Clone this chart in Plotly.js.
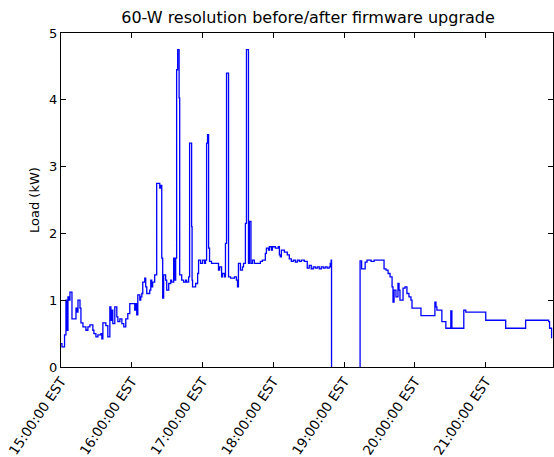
<!DOCTYPE html>
<html>
<head>
<meta charset="utf-8">
<script src="https://cdn.plot.ly/plotly-3.0.1.min.js"></script>
<style>html,body{margin:0;padding:0;background:#fff;}#chart{width:554px;height:457px;}</style>
</head>
<body>
<div id="chart"></div>
<script>
// minutes after 15:00 EST
const minutes = [0.0,0.8,3.0,4.2,5.1,5.9,6.8,7.6,9.3,12.7,13.5,14.4,16.1,16.9,18.6,21.1,22.8,24.5,27.0,27.9,29.6,31.3,33.8,34.6,35.5,38.0,39.7,41.4,42.3,43.1,43.9,45.6,47.3,48.2,49.9,51.6,53.2,54.9,56.6,58.3,60.8,62.5,63.4,64.2,65.1,66.8,67.6,68.5,69.3,71.0,71.8,72.7,75.2,76.1,76.9,77.7,79.4,81.1,83.7,84.5,85.4,86.2,87.0,88.7,89.6,91.3,93.0,93.8,95.5,96.3,97.2,98.0,98.9,100.1,100.6,102.3,103.9,105.6,106.5,108.2,109.0,110.7,111.1,111.5,114.1,115.8,116.6,118.3,120.0,121.7,122.5,123.4,124.2,125.1,125.9,127.6,131.8,133.5,134.4,136.1,136.9,138.6,139.4,140.3,142.0,143.7,147.0,148.7,149.6,150.4,152.1,153.8,154.7,156.3,157.2,158.9,159.7,161.0,162.3,163.9,166.5,169.0,170.7,173.2,174.1,175.8,176.6,178.3,179.2,181.7,184.2,185.1,185.9,186.8,189.3,191.8,193.5,195.2,196.9,198.6,200.3,202.0,203.7,206.2,208.7,210.4,212.1,213.8,215.5,217.2,218.9,220.6,222.3,223.9,225.6,227.3,228.2,229.0,229.3,229.4,253.4,253.5,254.8,257.8,259.4,262.8,265.4,273.8,275.5,277.2,278.9,280.6,281.4,282.3,283.9,285.6,286.5,287.3,289.0,289.9,291.6,293.2,294.9,296.6,297.5,303.4,305.1,316.1,316.9,317.8,318.6,322.8,326.2,330.4,331.3,339.7,341.4,343.1,360.0,376.9,393.8,413.3,414.1,415.8];
// load in kW (null = no reading between the outage edges)
const loadKW = [0.35,0.30,0.48,1.0,0.55,1.05,1.0,1.12,0.72,0.88,0.82,1.0,0.88,0.66,0.6,0.55,0.6,0.63,0.55,0.5,0.45,0.48,0.5,0.42,0.66,0.62,0.45,0.9,0.7,0.85,0.65,0.9,0.75,0.68,0.72,0.65,0.6,0.72,0.8,0.95,0.95,0.85,0.95,0.78,1.08,1.0,1.05,1.1,1.27,1.33,1.2,1.1,1.15,1.3,1.2,1.27,1.38,2.75,2.68,2.72,1.63,1.03,1.38,1.3,1.15,1.25,1.3,1.27,1.63,1.3,1.63,4.45,4.75,4.03,1.38,1.3,1.27,1.3,1.27,1.35,3.35,2.1,1.3,1.2,1.25,1.4,1.6,1.55,1.6,1.55,1.6,3.35,3.48,1.78,1.58,1.55,1.55,1.45,1.5,1.35,1.4,1.35,1.85,4.4,1.35,1.33,1.35,1.3,1.2,1.55,1.45,1.5,1.55,2.15,4.75,1.55,2.18,1.55,1.6,1.55,1.55,1.58,1.6,1.7,1.78,1.75,1.8,1.75,1.8,1.78,1.8,1.68,1.65,1.75,1.72,1.68,1.62,1.58,1.6,1.57,1.6,1.58,1.6,1.58,1.48,1.52,1.47,1.5,1.48,1.5,1.47,1.5,1.48,1.5,1.48,1.5,1.55,1.6,0,null,0,1.59,1.47,1.57,1.6,1.58,1.6,1.47,1.45,1.4,1.35,1.2,0.97,1.15,1.05,1.25,1.15,1.0,1.0,1.18,1.2,1.1,1.05,1.0,0.88,0.88,0.77,0.77,0.97,0.9,0.85,0.68,0.58,0.84,0.58,0.58,0.85,0.82,0.7,0.58,0.7,0.68,0.58,0.43];
const tickTimes = ["15:00:00","16:00:00","17:00:00","18:00:00","19:00:00","20:00:00","21:00:00"];
const tickLabels = ["15:00:00 EST","16:00:00 EST","17:00:00 EST","18:00:00 EST","19:00:00 EST","20:00:00 EST","21:00:00 EST"];
const day = "2013-01-15";

function minToDate(m){
  const t = Math.round(m*60) + 15*3600;
  const h = Math.floor(t/3600), mi = Math.floor((t%3600)/60), s = t%60;
  const p = v => String(v).padStart(2,'0');
  return day + " " + p(h)+":"+p(mi)+":"+p(s);
}
const xs = minutes.map(minToDate);

const font = {family: "DejaVu Sans, sans-serif", color: "#000", size: 13};
Plotly.newPlot("chart", [{
  x: xs, y: loadKW, type: "scatter", mode: "lines",
  line: {color: "#0000ff", width: 1.3, shape: "hv"},
  connectgaps: false,
  hoverinfo: "skip"
}], {
  width: 554, height: 457,
  margin: {l: 61, r: 1, t: 33, b: 90},
  paper_bgcolor: "#fff", plot_bgcolor: "#fff",
  font: font,
  showlegend: false,
  title: {text: "60-W resolution before/after firmware upgrade", font: {family: font.family, size: 16, color: "#000"}, x: 0.556, xanchor: "center", y: 0.962, yanchor: "middle"},
  xaxis: {
    type: "date",
    range: [day + " 15:00:00", day + " 21:57:00"],
    tickvals: tickTimes.map(t => day + " " + t),
    ticktext: tickLabels,
    tickangle: -56,
    ticks: "inside", ticklen: 5, tickcolor: "#000",
    showline: true, linecolor: "#000", linewidth: 1, mirror: "ticks",
    showgrid: false, zeroline: false,
    tickfont: {family: font.family, size: 13.5, color: "#000"}
  },
  yaxis: {
    range: [0, 5], tickvals: [0,1,2,3,4,5],
    ticks: "inside", ticklen: 5, tickcolor: "#000",
    showline: true, linecolor: "#000", linewidth: 1, mirror: "ticks",
    showgrid: false, zeroline: false,
    tickfont: {family: font.family, size: 13, color: "#000"},
    title: {text: "Load (kW)", font: {family: font.family, size: 13, color: "#000"}, standoff: 6}
  }
}, {staticPlot: true});
</script>
</body>
</html>
